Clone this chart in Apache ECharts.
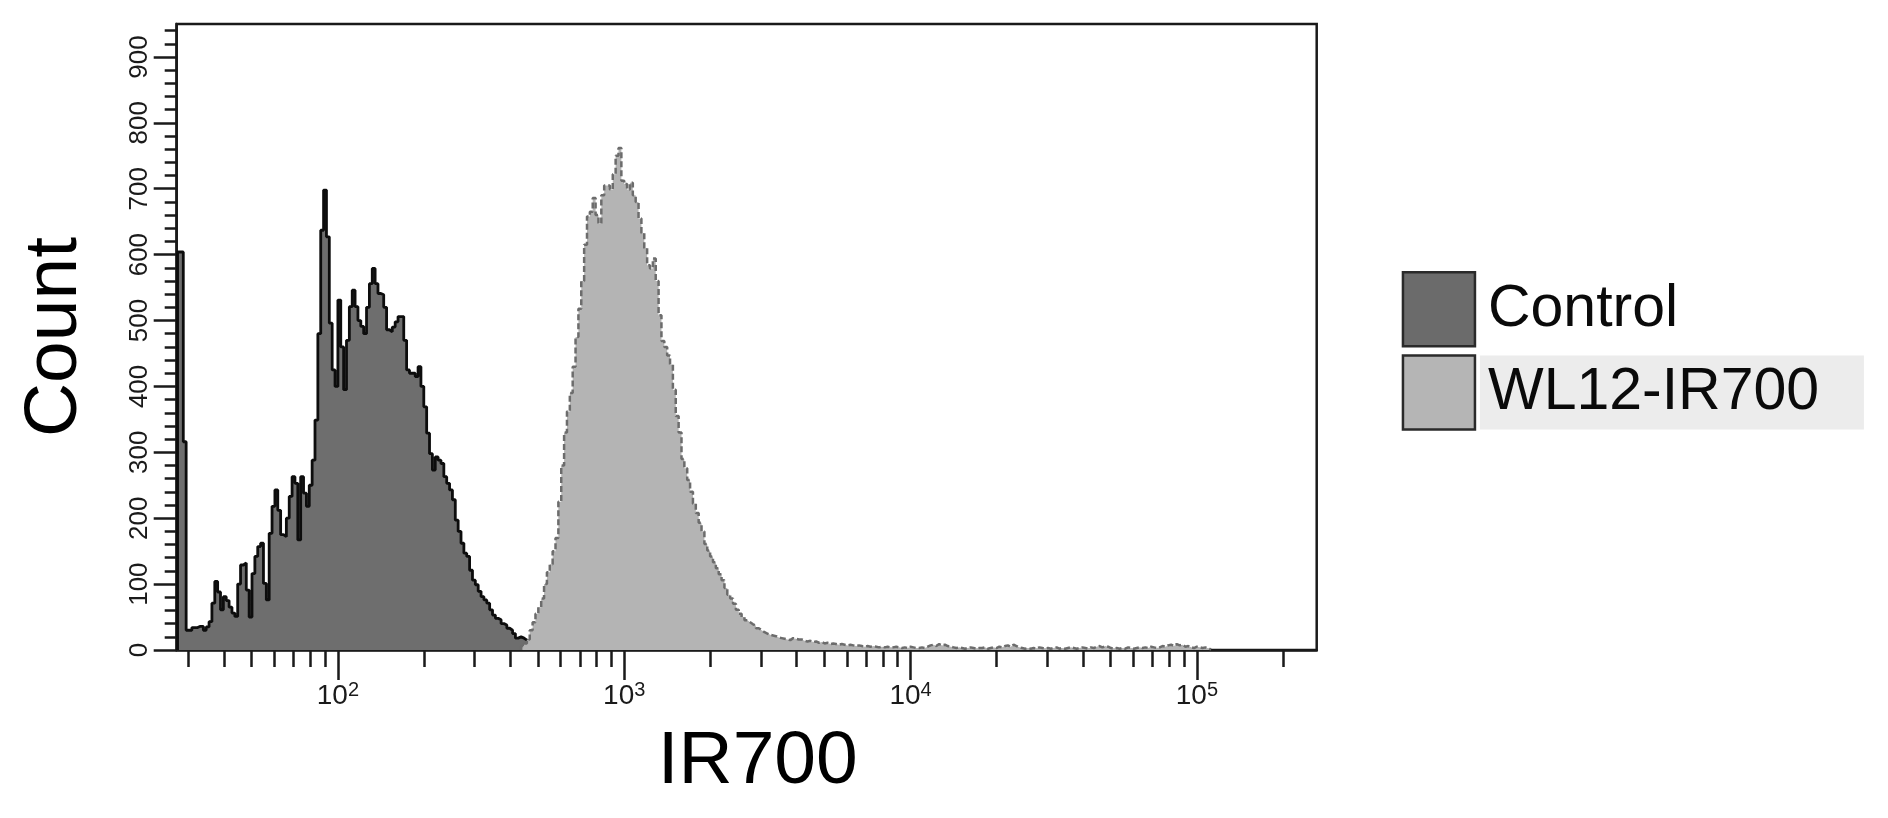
<!DOCTYPE html>
<html>
<head>
<meta charset="utf-8">
<script src="https://cdn.jsdelivr.net/npm/echarts@6/dist/echarts.min.js"></script>
<style>
  html, body { margin: 0; padding: 0; background: #fff; }
  #chart { width: 1888px; height: 818px; }
</style>
</head>
<body>
<div id="chart"></div>
<script>
// histogram bins are in log10(IR700) units, left edges start + i*step
var controlStart = 1.44, controlStep = 0.01;
var controlCounts = [
  604, 604, 316, 30, 30, 34, 34, 36, 36, 30, 35, 43, 71, 104, 88, 61, 81, 75, 65, 56,
  51, 100, 129, 132, 91, 50, 116, 142, 157, 162, 101, 76, 177, 218, 243, 212, 175, 172, 200, 233,
  263, 253, 167, 263, 238, 218, 250, 288, 349, 480, 637, 698, 627, 496, 425, 400, 531, 460, 395, 470,
  521, 546, 521, 500, 491, 480, 520, 556, 579, 556, 541, 539, 520, 486, 483, 490, 498, 506, 506, 470,
  425, 420, 420, 415, 430, 400, 369, 329, 298, 273, 293, 288, 283, 263, 253, 243, 228, 197, 180, 162,
  147, 142, 121, 106, 99, 89, 81, 76, 71, 61, 53, 48, 46, 40, 38, 33, 30, 25, 18, 20,
  18, 15, 13, 8, 6, 4, 3
];

var wlStart = 2.64, wlStep = 0.01;
var wlCounts = [
  6, 10, 16, 30, 42, 55, 65, 78, 100, 118, 130, 150, 170,
  225, 280, 330, 362, 390, 430, 475, 518, 560, 615, 658, 665,
  686, 660, 647, 690, 705, 705, 699, 722, 750, 762, 712, 707,
  699, 709, 690, 680, 655, 633, 610, 584, 579, 594, 560, 508,
  469, 460, 447, 433, 395, 355, 330, 290, 276, 258, 240, 222,
  208, 193, 180, 161, 151, 142, 133, 124, 115, 106, 94, 84,
  78, 70, 61, 55, 50, 45, 42, 39, 37, 33, 30, 27,
  25, 23, 22, 21, 19, 18, 17, 16, 15,
  18, 17, 16, 16, 14, 13, 14, 12, 13, 11, 12, 10, 11, 9, 10, 9, 8, 9, 8, 7,
  8, 7, 6, 7, 6, 5, 6, 5, 6, 5, 4, 5, 4, 5, 4, 4, 5, 4, 3, 4, 3, 5, 4, 3,
  3, 4, 3, 5, 7, 8, 6, 9, 7, 8,
  6, 5, 4, 3, 4, 3, 2, 3, 4, 3,
  2, 3, 3, 4, 2, 3, 4, 3, 5, 4,
  6, 7, 5, 8, 6, 4, 3, 2, 3, 2,
  3, 2, 4, 3, 2, 3, 2, 3, 4, 2,
  3, 2, 3, 4, 3, 2, 3, 4, 3, 2,
  4, 3, 5, 6, 4, 6, 5, 3, 2, 3,
  2, 3, 2, 4, 3, 2, 3, 4, 3, 4,
  3, 5, 4, 3, 4, 6, 5, 7, 8, 6,
  9, 7, 8, 5, 6, 4, 3, 5, 4, 3,
  4, 2, 1
];

var xMajorTicks = [100, 1000, 10000, 100000];
var xMinorTicks = [30, 40, 50, 60, 70, 80, 90,
  200, 300, 400, 500, 600, 700, 800, 900,
  2000, 3000, 4000, 5000, 6000, 7000, 8000, 9000,
  20000, 30000, 40000, 50000, 60000, 70000, 80000, 90000,
  200000];
var yMajorTicks = [0, 100, 200, 300, 400, 500, 600, 700, 800, 900];
var yMinorTicks = [20, 40, 60, 80, 120, 140, 160, 180, 220, 240, 260, 280, 320, 340, 360, 380,
  420, 440, 460, 480, 520, 540, 560, 580, 620, 640, 660, 680, 720, 740, 760, 780,
  820, 840, 860, 880, 920, 940];

var xMin = 1.437, xMax = 5.4185;   // 27 .. 262144
var font = 'Liberation Sans, Arial, sans-serif';
var ink = '#1a1a1a';

function toSteps(start, step, counts) {
  var pts = [[start, 0]];
  counts.forEach(function (c, i) {
    pts.push([+(start + i * step).toFixed(4), c]);
  });
  pts.push([+(start + counts.length * step).toFixed(4), 0]);
  return pts;
}
function lg(arr) { return arr.map(function (v) { return Math.log10(v); }); }

var chart = echarts.init(document.getElementById('chart'));
chart.setOption({
  animation: false,
  grid: {
    left: 176.7, right: 571.3, top: 24, bottom: 168,
    show: true, borderColor: ink, borderWidth: 2.5, backgroundColor: '#fff'
  },
  legend: {
    orient: 'vertical', left: 1396.7, top: 266,
    itemWidth: 72, itemHeight: 74, itemGap: 6.7,
    icon: 'rect',
    itemStyle: { borderColor: '#2a2a2a', borderWidth: 2.5 },
    data: [
      { name: 'Control', itemStyle: { color: '#6b6b6b' } },
      { name: 'WL12-IR700', itemStyle: { color: '#b5b5b5' } }
    ],
    formatter: function (name) {
      return name === 'WL12-IR700' ? '{g|' + name + '}' : '{w|' + name + '}';
    },
    textStyle: {
      fontFamily: font, fontSize: 59, color: '#111',
      rich: {
        w: { fontFamily: font, fontSize: 59, color: '#0a0a0a', width: 376, height: 74, lineHeight: 74, padding: [0, 0, 0, 8] },
        g: { fontFamily: font, fontSize: 59, color: '#0a0a0a', width: 376, height: 74, lineHeight: 74, padding: [0, 0, 0, 8], backgroundColor: '#ececec' }
      }
    }
  },
  xAxis: [
    {
      type: 'value', min: xMin, max: xMax, position: 'bottom',
      axisLine: { show: true, lineStyle: { color: ink, width: 2.5 } },
      axisTick: { show: true, customValues: lg(xMajorTicks), length: 30, lineStyle: { color: ink, width: 2.5 } },
      axisLabel: {
        customValues: lg(xMajorTicks), margin: 30,
        formatter: function (v) { return '{b|10}{s|' + Math.round(v) + '}'; },
        rich: {
          b: { fontFamily: font, fontSize: 28, color: '#1a1a1a', lineHeight: 32 },
          s: { fontFamily: font, fontSize: 20, color: '#1a1a1a', verticalAlign: 'top' }
        }
      },
      splitLine: { show: false },
      name: 'IR700', nameLocation: 'middle', nameGap: 75,
      nameTextStyle: { fontFamily: font, fontSize: 75, color: '#000', padding: [0, 0, 0, 22] }
    },
    {
      type: 'value', min: xMin, max: xMax, position: 'bottom',
      axisLine: { show: false },
      axisTick: { show: true, customValues: lg(xMinorTicks), length: 17, lineStyle: { color: ink, width: 2.5 } },
      axisLabel: { show: false },
      splitLine: { show: false }
    }
  ],
  yAxis: [
    {
      type: 'value', min: 0, max: 950, position: 'left',
      axisLine: { show: true, lineStyle: { color: ink, width: 2.5 } },
      axisTick: { show: true, customValues: yMajorTicks, length: 23, lineStyle: { color: ink, width: 2.5 } },
      axisLabel: {
        customValues: yMajorTicks, rotate: 90, margin: 24,
        fontFamily: font, fontSize: 26, color: '#1a1a1a'
      },
      splitLine: { show: false },
      name: 'Count', nameLocation: 'middle', nameRotate: 90, nameGap: 84,
      nameTextStyle: { fontFamily: font, fontSize: 75, color: '#000' }
    },
    {
      type: 'value', min: 0, max: 950, position: 'left',
      axisLine: { show: false },
      axisTick: { show: true, customValues: yMinorTicks, length: 12, lineStyle: { color: ink, width: 2.5 } },
      axisLabel: { show: false },
      splitLine: { show: false }
    }
  ],
  series: [
    {
      name: 'Control', type: 'line', step: 'end', symbol: 'none',
      xAxisIndex: 0, yAxisIndex: 0,
      color: '#6b6b6b',
      itemStyle: { color: '#6b6b6b' },
      lineStyle: { color: '#0d0d0d', width: 2.8 },
      areaStyle: { color: '#6e6e6e', opacity: 1 },
      data: toSteps(controlStart, controlStep, controlCounts),
      z: 2
    },
    {
      name: 'WL12-IR700', type: 'line', step: 'end', symbol: 'none',
      xAxisIndex: 0, yAxisIndex: 0,
      color: '#b5b5b5',
      itemStyle: { color: '#b5b5b5' },
      lineStyle: { color: '#6c6c6c', width: 2.5, type: [6, 3] },
      areaStyle: { color: '#b4b4b4', opacity: 1 },
      data: toSteps(wlStart, wlStep, wlCounts),
      z: 3
    }
  ]
});
</script>
</body>
</html>
